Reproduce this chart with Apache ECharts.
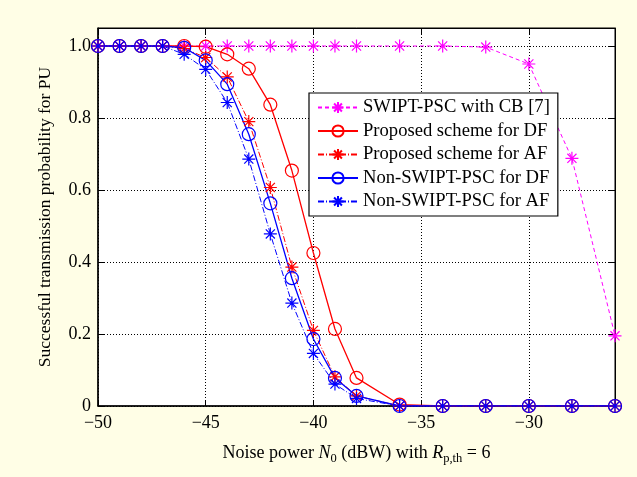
<!DOCTYPE html>
<html>
<head>
<meta charset="utf-8">
<script src="https://cdn.jsdelivr.net/npm/echarts@6/dist/echarts.min.js"></script>
<style>
  html, body { margin: 0; padding: 0; background: #fffee6; }
  #chart { width: 637px; height: 477px; }
</style>
</head>
<body>
<div id="chart"></div>
<script>
// noise power N0 (dBW)
var noisePower = [-50, -49, -48, -47, -46, -45, -44, -43, -42, -41, -40, -39, -38, -36, -34, -32, -30, -28, -26];

// successful transmission probability for PU
var swiptCB   = [1, 1, 1, 1, 1, 1, 1, 1, 1, 1, 1, 1, 1, 1, 1, 0.997, 0.95, 0.688, 0.195];
var propDF    = [1, 1, 1, 1, 1, 0.998, 0.977, 0.937, 0.837, 0.654, 0.425, 0.214, 0.078, 0.004, 0, 0, 0, 0, 0];
var propAF    = [1, 1, 1, 1, 0.993, 0.968, 0.914, 0.79, 0.607, 0.386, 0.21, 0.081, 0.028, 0, 0, 0, 0, 0, 0];
var nonDF     = [1, 1, 1, 1, 0.995, 0.96, 0.894, 0.755, 0.563, 0.355, 0.186, 0.078, 0.028, 0, 0, 0, 0, 0, 0];
var nonAF     = [1, 1, 1, 1, 0.977, 0.935, 0.843, 0.686, 0.478, 0.286, 0.146, 0.061, 0.021, 0, 0, 0, 0, 0, 0];

var seriesNames = [
  'SWIPT-PSC with CB [7]',
  'Proposed scheme for DF',
  'Proposed scheme for AF',
  'Non-SWIPT-PSC for DF',
  'Non-SWIPT-PSC for AF'
];

var STAR = 'path://M5,0L5,10M0,5L10,5M1.5,1.5L8.5,8.5M1.5,8.5L8.5,1.5';
var serif = '"Liberation Serif", "DejaVu Serif", serif';

function pairs(ys) {
  return noisePower.map(function (x, i) { return [x, ys[i]]; });
}

function makeSeries(name, ys, color, symbol, dash, width) {
  return {
    name: name,
    type: 'line',
    data: pairs(ys),
    symbol: symbol,
    symbolSize: 13,
    showAllSymbol: true,
    lineStyle: { color: color, width: width, type: dash },
    itemStyle: { color: 'rgba(0,0,0,0)', borderColor: color, borderWidth: 1.2 },
    emphasis: { disabled: true }
  };
}

function minus(v) {
  return String(v).replace('-', '\u2212');
}

var chart = echarts.init(document.getElementById('chart'), null, { renderer: 'canvas' });

var option = {
  animation: false,
  backgroundColor: '#fffee6',
  textStyle: { fontFamily: serif },
  grid: {
    left: 98, right: 22, top: 28, bottom: 71,
    show: true, backgroundColor: '#ffffff', borderColor: '#000', borderWidth: 1
  },
  legend: {
    orient: 'vertical',
    left: 309, top: 93,
    backgroundColor: '#ffffff',
    borderColor: '#000', borderWidth: 1.2,
    padding: [5, 8, 5, 8],
    itemWidth: 40, itemHeight: 14, itemGap: 4.5,
    textStyle: { fontFamily: serif, fontSize: 18.6, color: '#000' },
    data: seriesNames
  },
  xAxis: [{
    type: 'value',
    min: -50, max: -26, interval: 5,
    name: '{n|Noise power }{i|N}{s|0}{n| (dBW) with }{i|R}{s|p,th}{n| = 6}',
    nameLocation: 'middle', nameGap: 36,
    nameTextStyle: {
      rich: {
        n: { fontFamily: serif, fontSize: 18, color: '#000' },
        i: { fontFamily: serif, fontSize: 18, fontStyle: 'italic', color: '#000' },
        s: { fontFamily: serif, fontSize: 12.5, color: '#000', verticalAlign: 'bottom', padding: [10, 0, 0, 0] }
      }
    },
    axisLine: { onZero: false, lineStyle: { color: '#000', width: 1.5 } },
    axisTick: { inside: true, length: 6, lineStyle: { color: '#000' } },
    axisLabel: { fontFamily: serif, fontSize: 18, color: '#000', margin: 8, showMaxLabel: false, formatter: minus },
    splitLine: { show: true, lineStyle: { color: '#000', type: [1, 2], width: 1 } }
  }, {
    type: 'value', position: 'top',
    min: -50, max: -26, interval: 5,
    axisLine: { onZero: false, lineStyle: { color: '#000', width: 1 } },
    axisTick: { inside: true, length: 6, lineStyle: { color: '#000' } },
    axisLabel: { show: false },
    splitLine: { show: false }
  }],
  yAxis: [{
    type: 'value',
    min: 0, max: 1.05, interval: 0.2,
    name: 'Successful transmission probability for PU',
    nameLocation: 'middle', nameGap: 44,
    nameTextStyle: { fontFamily: serif, fontSize: 17.5, color: '#000' },
    axisLine: { onZero: false, lineStyle: { color: '#000', width: 1.5 } },
    axisTick: { inside: true, length: 6, lineStyle: { color: '#000' } },
    axisLabel: {
      fontFamily: serif, fontSize: 18, color: '#000', margin: 7, showMaxLabel: false,
      formatter: function (v) { return v === 0 ? '0' : v.toFixed(1); }
    },
    splitLine: { show: true, lineStyle: { color: '#000', type: [1, 2], width: 1 } }
  }, {
    type: 'value', position: 'right',
    min: 0, max: 1.05, interval: 0.2,
    axisLine: { onZero: false, lineStyle: { color: '#000', width: 1 } },
    axisTick: { inside: true, length: 6, lineStyle: { color: '#000' } },
    axisLabel: { show: false },
    splitLine: { show: false }
  }],
  series: [
    makeSeries(seriesNames[0], swiptCB, '#ff00ff', STAR, [4, 3], 1),
    makeSeries(seriesNames[1], propDF, '#ff0000', 'circle', 'solid', 1.3),
    makeSeries(seriesNames[2], propAF, '#ff0000', STAR, [6, 2, 1, 2], 1),
    makeSeries(seriesNames[3], nonDF, '#0000ff', 'circle', 'solid', 1.3),
    makeSeries(seriesNames[4], nonAF, '#0000ff', STAR, [6, 2, 1, 2], 1)
  ]
};

chart.setOption(option);
</script>
</body>
</html>
